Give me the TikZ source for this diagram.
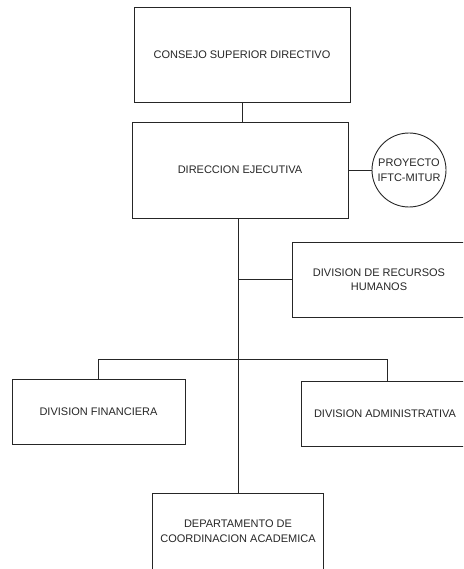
\documentclass[tikz,border=0pt]{standalone}
\usepackage{fontspec}
\setmainfont{Liberation Sans}
\begin{document}
\begin{tikzpicture}[x=1pt,y=-1pt,
  every node/.style={font=\fontsize{11}{14.5}\selectfont, text=black!85, align=center, inner sep=0pt},
  box/.style={draw=black!85, line width=0.9pt, rectangle},
  circ/.style={draw=black!85, line width=0.9pt, circle, minimum size=74pt},
  conn/.style={draw=black!85, line width=0.9pt}]
\useasboundingbox (0,0) rectangle (463,569);
\clip (0,0) rectangle (463,569);
\node[box, minimum width=216pt, minimum height=95pt] (c1) at (242,54.5) {CONSEJO SUPERIOR DIRECTIVO};
\node[box, minimum width=216pt, minimum height=96pt] (c2) at (240,170) {DIRECCION EJECUTIVA};
\node[circ] (p) at (409,170) {PROYECTO\\IFTC-MITUR};
\node[box, minimum width=174pt, minimum height=75pt] (hr) at (379,279.5) {DIVISION DE RECURSOS\\HUMANOS};
\node[box, minimum width=173pt, minimum height=65pt] (fin) at (98.5,411.5) {DIVISION FINANCIERA};
\node[box, minimum width=168pt, minimum height=65pt] (adm) at (385,413.5) {DIVISION ADMINISTRATIVA};
\node[box, minimum width=171pt, minimum height=76pt] (dep) at (238,531) {DEPARTAMENTO  DE\\COORDINACION ACADEMICA};
\coordinate (bar) at (0,359);
\draw[conn] (c1.south) -- (c1.south |- c2.north);
\draw[conn] (c2.east) -- (p.west);
\draw[conn] (c2.south -| dep.north) -- (dep.north);
\draw[conn] (dep.north |- hr.west) -- (hr.west);
\draw[conn] (fin.north) -- (fin.north |- bar) -- ([xshift=2pt]adm.north |- bar) -- ([xshift=2pt]adm.north);
\end{tikzpicture}
\end{document}
